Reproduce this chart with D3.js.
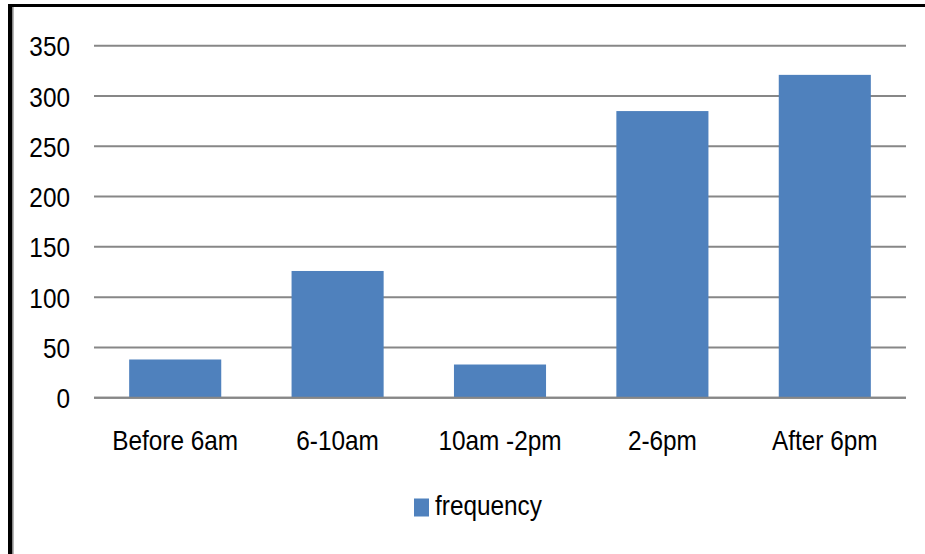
<!DOCTYPE html>
<html>
<head>
<meta charset="utf-8">
<script src="https://cdn.jsdelivr.net/npm/d3@7"></script>
<style>
  html, body { margin: 0; padding: 0; background: #fff; }
  svg text { font-family: "Liberation Sans Narrow", "Liberation Sans", Arial, sans-serif; fill: #000; }
</style>
</head>
<body>
<script>
// Visits by time of day
const categories = ["Before 6am", "6-10am", "10am -2pm", "2-6pm", "After 6pm"];
const frequency = [38, 126, 33, 285, 321];
const yTicks = [0, 50, 100, 150, 200, 250, 300, 350];
const seriesName = "frequency";

const W = 925, H = 554;
const plot = { left: 94, right: 906, top: 45.7, bottom: 397.7 };
const FONT = "'Liberation Sans', Arial, sans-serif";
const FS = "28px";
const SX = 0.87; // condensed lettering

const svg = d3.select("body").append("svg")
  .attr("width", W).attr("height", H);

svg.append("rect").attr("width", W).attr("height", H).attr("fill", "#fff");

// frame (top and left edges)
svg.append("line").attr("x1", 8).attr("x2", W).attr("y1", 5.5).attr("y2", 5.5)
  .attr("stroke", "#000").attr("stroke-width", 3);
svg.append("line").attr("x1", 10).attr("x2", 10).attr("y1", 4).attr("y2", H)
  .attr("stroke", "#000").attr("stroke-width", 4);
svg.append("line").attr("x1", 12.8).attr("x2", 12.8).attr("y1", 7).attr("y2", H)
  .attr("stroke", "#888").attr("stroke-width", 1.6);

const x = d3.scaleBand()
  .domain(categories)
  .range([plot.left, plot.right])
  .paddingInner(0.433)
  .paddingOuter(0.2165);

const y = d3.scaleLinear()
  .domain([0, 350])
  .range([plot.bottom, plot.top]);

// value labels on the left
const yAxis = d3.axisLeft(y)
  .tickValues(yTicks)
  .tickSize(0)
  .tickPadding(0);

const gy = svg.append("g").call(yAxis);
gy.select(".domain").remove();
gy.selectAll(".tick text")
  .attr("x", 0)
  .attr("dy", "0.36em")
  .attr("text-anchor", "end")
  .attr("transform", `translate(70,0) scale(${SX},1)`)
  .style("font-family", FONT)
  .style("font-size", FS)
  .style("fill", "#000");

// horizontal gridlines
svg.append("g").selectAll("line")
  .data(yTicks)
  .join("line")
  .attr("x1", plot.left).attr("x2", plot.right)
  .attr("y1", d => y(d)).attr("y2", d => y(d))
  .attr("stroke", "#878787").attr("stroke-width", 2);

// bars
svg.append("g").selectAll("rect")
  .data(frequency)
  .join("rect")
  .attr("x", (d, i) => x(categories[i]))
  .attr("width", x.bandwidth())
  .attr("y", d => y(d))
  .attr("height", d => y(0) - y(d))
  .attr("fill", "#4F81BD");

// baseline above the bars
svg.append("line")
  .attr("x1", plot.left).attr("x2", plot.right)
  .attr("y1", y(0)).attr("y2", y(0))
  .attr("stroke", "#878787").attr("stroke-width", 2);

// category labels
const xAxis = d3.axisBottom(x).tickSize(0).tickPadding(0);
const gx = svg.append("g").attr("transform", "translate(0, 450)").call(xAxis);
gx.select(".domain").remove();
gx.selectAll(".tick text")
  .attr("y", 0).attr("dy", 0)
  .attr("transform", `scale(${SX},1)`)
  .style("font-family", FONT)
  .style("font-size", FS)
  .style("fill", "#000");

// legend
const legend = svg.append("g");
legend.append("rect")
  .attr("x", 414).attr("y", 498.5).attr("width", 15).attr("height", 18)
  .attr("fill", "#4F81BD");
legend.append("text")
  .attr("x", 0).attr("y", 0)
  .attr("transform", `translate(435,515) scale(${SX},1)`)
  .style("font-family", FONT)
  .style("font-size", FS)
  .text(seriesName);
</script>
</body>
</html>
